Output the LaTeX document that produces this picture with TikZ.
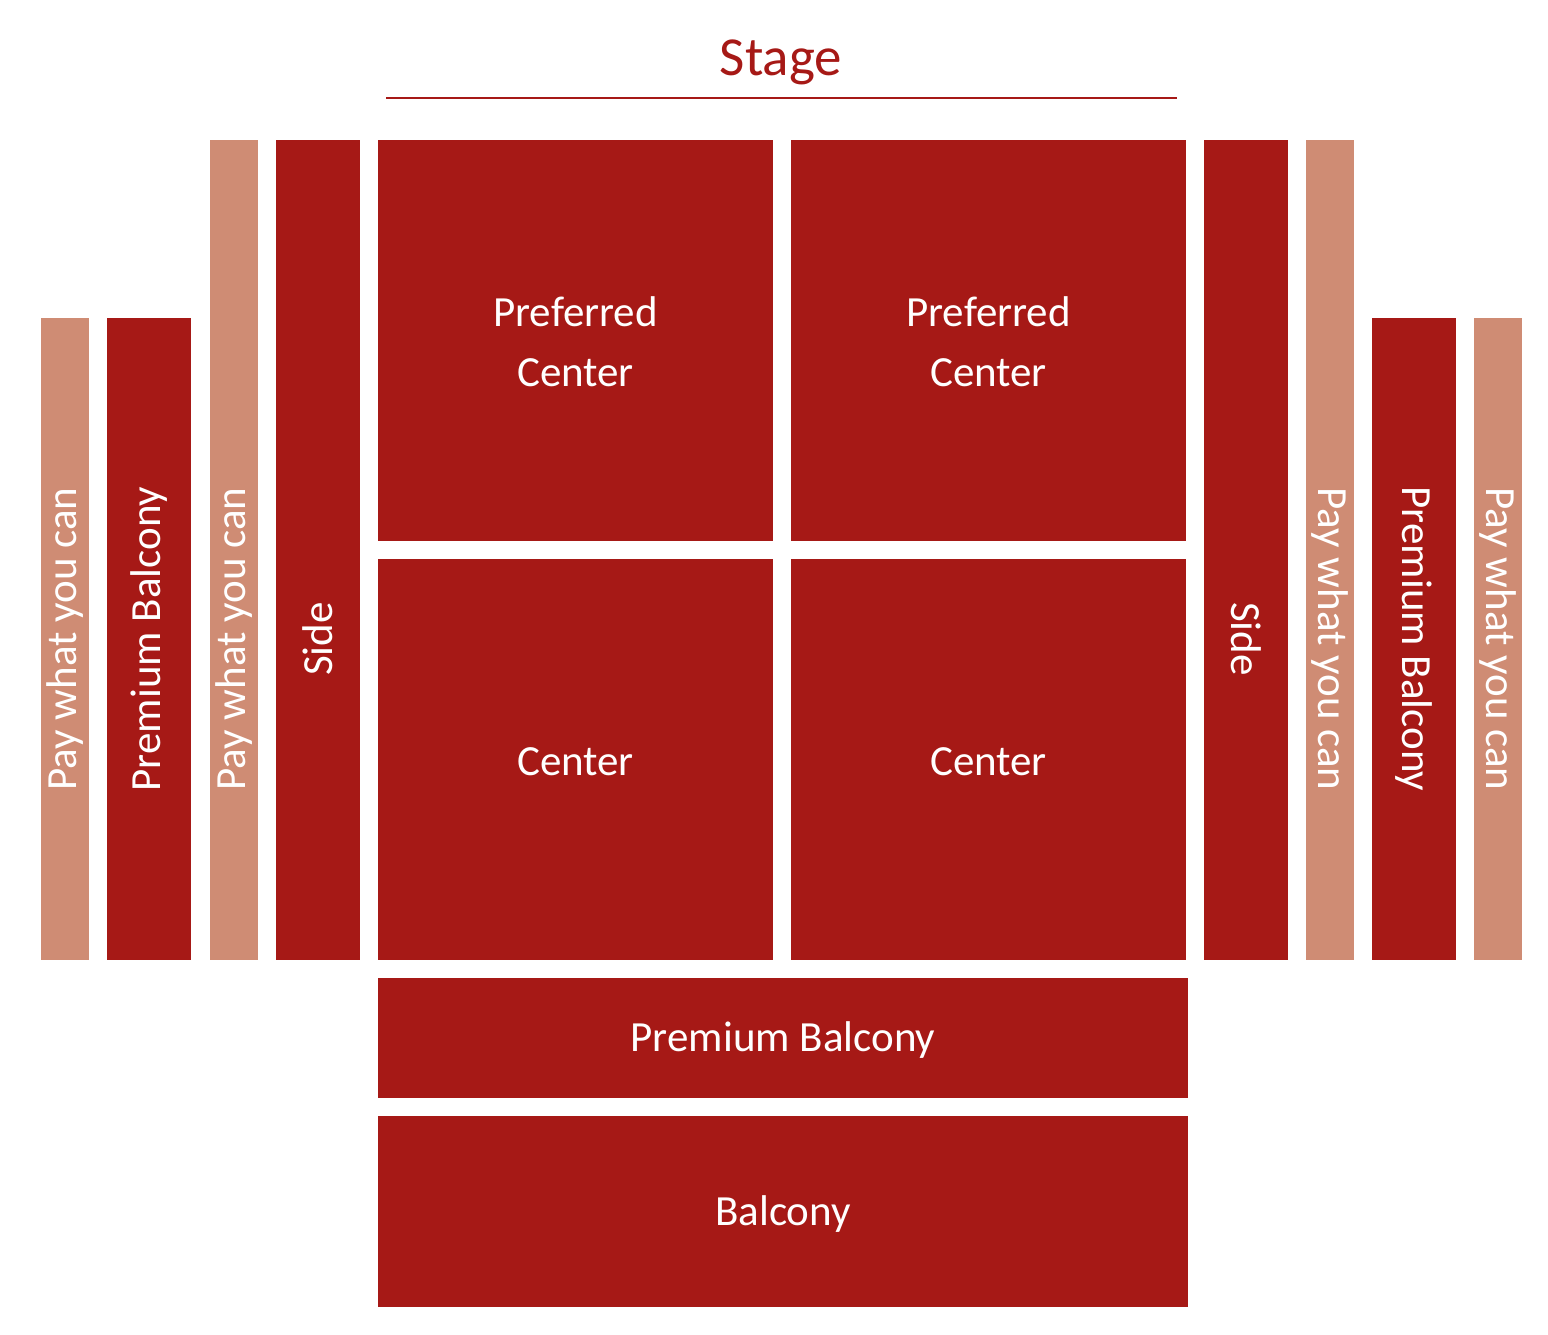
\documentclass[tikz,border=0pt]{standalone}
\usepackage{fontspec}
\setmainfont{Carlito}
\definecolor{seatred}{HTML}{A61916}
\definecolor{seatsalmon}{HTML}{CF8C74}
\begin{document}
\begin{tikzpicture}[x=1pt,y=-1pt,
  block/.style={fill=seatred,draw=none},
  pwyc/.style={fill=seatsalmon,draw=none},
  lbl/.style={text=white,font=\fontsize{43}{60}\selectfont,align=center,inner sep=0pt},
  vlbl/.style={lbl,rotate=90},
  vlblr/.style={lbl,rotate=-90}]
\useasboundingbox (0,0) rectangle (1548,1334);
% stage
\node[text=seatred,font=\fontsize{55}{60}\selectfont,inner sep=0pt] (stage) at (781,62) {Stage};
\coordinate (sl) at (386,98);
\coordinate (sr) at (1177,98);
\draw[seatred,line width=2pt] (sl) -- (sr);
% left columns
\fill[pwyc] (41,318) rectangle (89,960);
\fill[block] (107,318) rectangle (191,960);
\fill[pwyc] (210,140) rectangle (258,960);
\fill[block] (276,140) rectangle (360,960);
\node[vlbl] (lp1) at (65,639) {Pay what you can};
\node[vlbl] (lpb) at (149,639) {Premium Balcony};
\node[vlbl] (lp2) at (234,639) {Pay what you can};
\node[vlbl] (ls) at (318,639) {Side};
% center blocks
\fill[block] (378,140) rectangle (773,541);
\fill[block] (791,140) rectangle (1186,541);
\fill[block] (378,559) rectangle (773,960);
\fill[block] (791,559) rectangle (1186,960);
\node[lbl] (pc1) at (575.5,342) {Preferred\\Center};
\node[lbl] (pc2) at (988.5,342) {Preferred\\Center};
\node[lbl] (c1) at (575.5,762) {Center};
\node[lbl] (c2) at (988.5,762) {Center};
% right columns
\fill[block] (1204,140) rectangle (1288,960);
\fill[pwyc] (1306,140) rectangle (1354,960);
\fill[block] (1372,318) rectangle (1456,960);
\fill[pwyc] (1474,318) rectangle (1522,960);
\node[vlblr] (rs) at (1246,639) {Side};
\node[vlblr] (rp2) at (1330,639) {Pay what you can};
\node[vlblr] (rpb) at (1414,639) {Premium Balcony};
\node[vlblr] (rp1) at (1498,639) {Pay what you can};
% balconies
\fill[block] (378,978) rectangle (1188,1098);
\fill[block] (378,1116) rectangle (1188,1307);
\node[lbl] (pb) at (783,1040) {Premium Balcony};
\node[lbl] (b) at (783,1214) {Balcony};
\end{tikzpicture}
\end{document}
